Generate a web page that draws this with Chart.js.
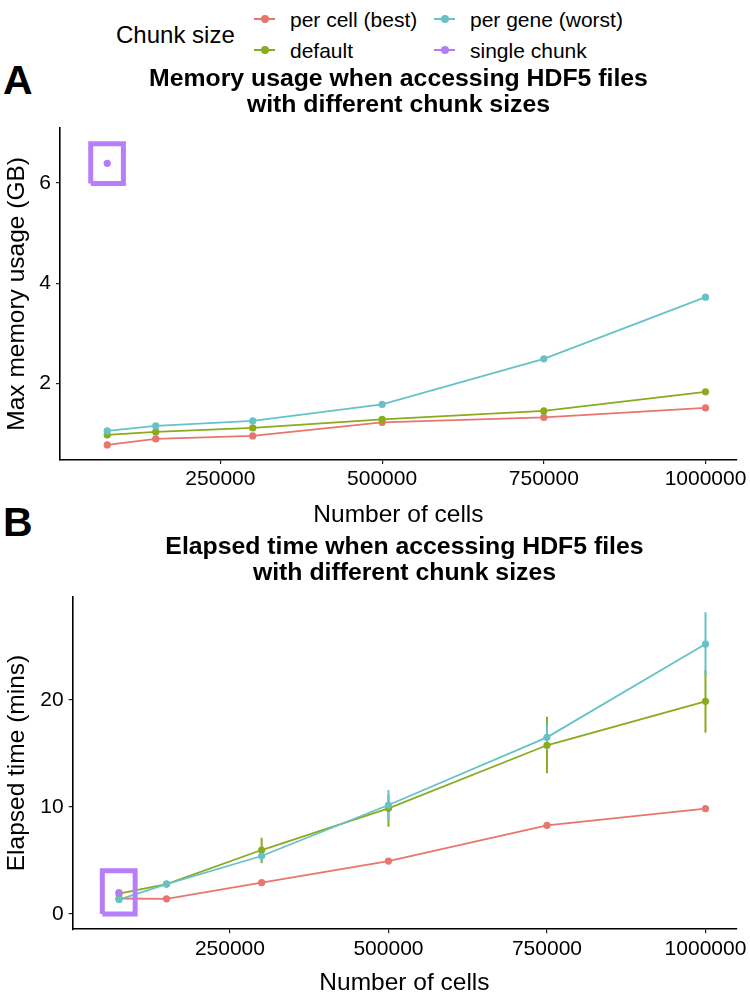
<!DOCTYPE html>
<html>
<head>
<meta charset="utf-8">
<script src="https://cdn.jsdelivr.net/npm/chart.js@4.4.1/dist/chart.umd.min.js"></script>
<style>
  body { margin: 0; width: 750px; height: 995px; background: #fff; position: relative; overflow: hidden;
         font-family: "Liberation Sans", Arial, sans-serif; color: #000; }
  .abs { position: absolute; }
  .panel-label { font-size: 41px; font-weight: bold; line-height: 1; }
  .legend-title { font-size: 24px; line-height: 1; }
  .legend-text { font-size: 21px; line-height: 1; white-space: nowrap; }
  .key-line { height: 2px; width: 21px; }
  .key-dot { width: 8px; height: 8px; border-radius: 50%; }
</style>
</head>
<body>
<div id="legend"></div>
<div class="abs panel-label" style="left:3px; top:60px;">A</div>
<div class="abs panel-label" style="left:3px; top:502px;">B</div>
<canvas id="memoryChart" class="abs" style="left:0; top:55px;" width="750" height="480"></canvas>
<canvas id="timeChart" class="abs" style="left:0; top:534px;" width="750" height="461"></canvas>
<script>
// series / legend
const seriesNames = ['per cell (best)', 'default', 'per gene (worst)', 'single chunk'];
const seriesColors = ['#E7766F', '#8AAB1F', '#66C2C7', '#B57CF6'];
const boxColor = '#B77EFA';

// x values (number of cells)
const cells = [75000, 150000, 300000, 500000, 750000, 1000000];
const singleCells = [75000];

// panel A: max memory usage (GB)
const memPerCell = [0.77, 0.89, 0.95, 1.22, 1.32, 1.51];
const memDefault = [0.97, 1.03, 1.11, 1.28, 1.45, 1.83];
const memPerGene = [1.05, 1.15, 1.25, 1.58, 2.49, 3.72];
const memSingle = [6.39];
const memBoxX = [49500, 100000];
const memBoxY = [5.99, 6.78];

// panel B: elapsed time (mins), with error bar ranges
const timePerCell = [1.45, 1.42, 2.93, 4.95, 8.29, 9.84];
const timePerCellLo = [1.4, 1.37, 2.85, 4.85, 8.15, 9.7];
const timePerCellHi = [1.5, 1.47, 3.0, 5.05, 8.4, 9.95];
const timeDefault = [1.9, 2.8, 5.98, 9.88, 15.77, 19.88];
const timeDefaultLo = [1.8, 2.6, 4.74, 8.16, 13.15, 16.95];
const timeDefaultHi = [2.0, 3.0, 7.13, 11.2, 18.44, 22.81];
const timePerGene = [1.35, 2.8, 5.42, 10.19, 16.51, 25.23];
const timePerGeneLo = [1.3, 2.6, 4.9, 8.8, 15.3, 22.3];
const timePerGeneHi = [1.45, 3.0, 5.9, 11.6, 17.8, 28.2];
const timeSingle = [2.0];
const timeBoxX = [48700, 100500];
const timeBoxY = [0.0, 4.04];

// axis ticks / limits
const xTickValues = [250000, 500000, 750000, 1000000];
const xLimits = [2000, 1048500];
const memTickValues = [2, 4, 6];
const memLimits = [0.47, 7.1];
const timeTickValues = [0, 10, 20];
const timeLimits = [-1.43, 29.65];

Chart.defaults.font.family = '"Liberation Sans", Arial, sans-serif';
Chart.defaults.color = '#000';

function buildLegend() {
    const legend = document.getElementById('legend');
    let html = `<div class="abs legend-title" style="left:116px; top:23px;">Chunk size</div>`;
    const cols = [254, 434];
    const rows = [18.5, 49.5];
    seriesNames.forEach((name, i) => {
        const left = cols[Math.floor(i / 2)];
        const cy = rows[i % 2];
        html += `<div class="abs key-line" style="left:${left}px; top:${cy - 1}px; background:${seriesColors[i]}"></div>`;
        html += `<div class="abs key-dot" style="left:${left + 7}px; top:${cy - 4}px; background:${seriesColors[i]}"></div>`;
        html += `<div class="abs legend-text" style="left:${left + 36}px; top:${cy - 10}px;">${name}</div>`;
    });
    legend.innerHTML = html;
}

function points(xs, ys) {
    return xs.map((x, i) => ({ x: x, y: ys[i] }));
}

function errorSegments(xs, lo, hi) {
    let out = [];
    xs.forEach((x, i) => {
        out.push({ x: x, y: lo[i] }, { x: x, y: hi[i] }, { x: x, y: null });
    });
    return out;
}

function boxOutline(bx, by) {
    return [
        { x: bx[0], y: by[0] }, { x: bx[1], y: by[0] },
        { x: bx[1], y: by[1] }, { x: bx[0], y: by[1] }, { x: bx[0], y: by[0] }
    ];
}

function lineSet(label, data, color, order) {
    return {
        label: label, data: data, showLine: true, order: order,
        borderColor: color, backgroundColor: color, borderWidth: 1.8,
        pointRadius: 3.6, pointBorderWidth: 0, pointBackgroundColor: color
    };
}

function barSet(data, color, order) {
    return {
        data: data, showLine: true, spanGaps: false, order: order,
        borderColor: color, borderWidth: 2, pointRadius: 0
    };
}

function boxSet(data) {
    return {
        data: data, showLine: true, order: 0, borderColor: boxColor,
        borderWidth: 5, borderJoinStyle: 'miter', pointRadius: 0
    };
}

function fixedTicks(values) {
    return scale => { scale.ticks = values.map(v => ({ value: v })); };
}

function createPanel(canvasId, opts) {
    const ctx = document.getElementById(canvasId).getContext('2d');
    const axisCommon = {
        type: 'linear',
        grid: { display: true, drawOnChartArea: false, drawTicks: true, tickLength: 4, color: '#222', lineWidth: 1.2 },
        border: { display: true, color: '#000', width: 1.6 },
    };
    const config = {
        type: 'scatter',
        data: { datasets: opts.datasets },
        options: {
            responsive: false,
            animation: false,
            devicePixelRatio: 1,
            layout: { padding: { left: 0, right: 11.7, top: 0, bottom: 0 } },
            plugins: {
                legend: { display: false },
                tooltip: { enabled: false },
                title: {
                    display: true, fullSize: false, text: opts.title, color: '#000',
                    font: { size: 24.8, weight: 'bold', lineHeight: 1.05 },
                    padding: opts.titlePadding
                }
            },
            scales: {
                x: Object.assign({}, axisCommon, {
                    min: xLimits[0], max: xLimits[1],
                    afterBuildTicks: fixedTicks(xTickValues),
                    afterFit: s => { s.height = opts.xHeight; },
                    ticks: { padding: 3, font: { size: 21 }, color: '#000', maxRotation: 0, autoSkip: false,
                             callback: v => String(v) },
                    title: { display: true, text: 'Number of cells', color: '#000',
                             font: { size: 24.5, lineHeight: 1 }, padding: { top: 0, bottom: opts.xTitlePad } }
                }),
                y: Object.assign({}, axisCommon, {
                    min: opts.yLimits[0], max: opts.yLimits[1],
                    afterBuildTicks: fixedTicks(opts.yTicks),
                    afterFit: s => { s.width = opts.yWidth; },
                    ticks: { padding: 5, font: { size: 21 }, color: '#000', autoSkip: false,
                             callback: v => String(v) },
                    title: { display: true, text: opts.yTitle, color: '#000',
                             font: { size: 24.5, lineHeight: 1.2 }, padding: { top: 3, bottom: 0 } }
                })
            }
        }
    };
    return new Chart(ctx, config);
}

buildLegend();

createPanel('memoryChart', {
    title: ['Memory usage when accessing HDF5 files', 'with different chunk sizes'],
    titlePadding: { top: 11, bottom: 9.7 },
    yTitle: 'Max memory usage (GB)',
    yLimits: memLimits, yTicks: memTickValues,
    yWidth: 60, xHeight: 75, xTitlePad: 7.5,
    datasets: [
        boxSet(boxOutline(memBoxX, memBoxY)),
        lineSet(seriesNames[3], points(singleCells, memSingle), seriesColors[3], 1),
        lineSet(seriesNames[2], points(cells, memPerGene), seriesColors[2], 2),
        lineSet(seriesNames[1], points(cells, memDefault), seriesColors[1], 3),
        lineSet(seriesNames[0], points(cells, memPerCell), seriesColors[0], 4)
    ]
});

createPanel('timeChart', {
    title: ['Elapsed time when accessing HDF5 files', 'with different chunk sizes'],
    titlePadding: { top: 0, bottom: 10.7 },
    yTitle: 'Elapsed time (mins)',
    yLimits: timeLimits, yTicks: timeTickValues,
    yWidth: 72.7, xHeight: 65.7, xTitlePad: 0,
    datasets: [
        boxSet(boxOutline(timeBoxX, timeBoxY)),
        lineSet(seriesNames[3], points(singleCells, timeSingle), seriesColors[3], 1),
        lineSet(seriesNames[2], points(cells, timePerGene), seriesColors[2], 2),
        lineSet(seriesNames[1], points(cells, timeDefault), seriesColors[1], 3),
        lineSet(seriesNames[0], points(cells, timePerCell), seriesColors[0], 4),
        barSet(errorSegments(cells, timePerGeneLo, timePerGeneHi), seriesColors[2], 5),
        barSet(errorSegments(cells, timeDefaultLo, timeDefaultHi), seriesColors[1], 6),
        barSet(errorSegments(cells, timePerCellLo, timePerCellHi), seriesColors[0], 7)
    ]
});
</script>
</body>
</html>
